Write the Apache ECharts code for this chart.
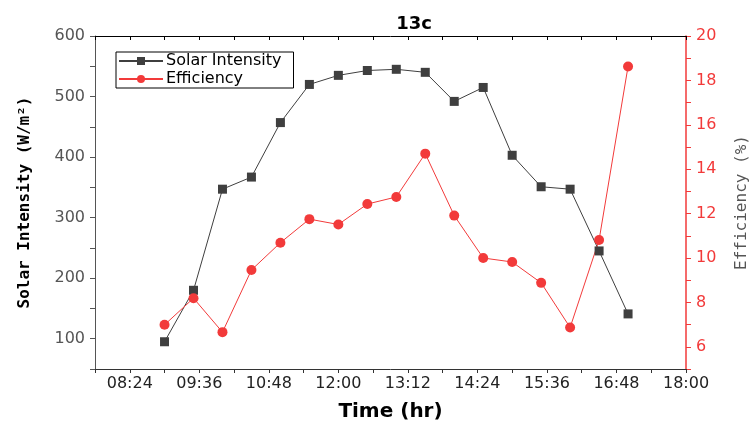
<!DOCTYPE html>
<html>
<head>
<meta charset="utf-8">
<script src="https://cdn.jsdelivr.net/npm/echarts@6/dist/echarts.min.js"></script>
<style>
  html, body { margin: 0; padding: 0; background: #fff; }
  #chart { width: 753px; height: 423px; }
</style>
</head>
<body>
<div id="chart"></div>
<script>
// time of each reading
const times = ['09:00', '09:30', '10:00', '10:30', '11:00', '11:30', '12:00', '12:30', '13:00',
  '13:30', '14:00', '14:30', '15:00', '15:30', '16:00', '16:30', '17:00'];
// W/m2
const solarIntensity = [95, 180, 347, 367, 457, 520, 535, 543, 545, 540, 492, 515, 403, 351, 347, 245, 141];
// %
const efficiency = [6.99, 8.19, 6.66, 9.46, 10.69, 11.75, 11.51, 12.43, 12.75, 14.7, 11.91, 10.0, 9.82, 8.88, 6.87, 10.81, 18.63];

const toMin = t => { const p = t.split(':'); return +p[0] * 60 + +p[1]; };
const fmtTime = v => String(Math.floor(v / 60)).padStart(2, '0') + ':' + String(v % 60).padStart(2, '0');

const red = '#f23a3a';
const dark = '#3f3f3f';
const sans = 'DejaVu Sans';
const mono = 'DejaVu Sans Mono';

const chart = echarts.init(document.getElementById('chart'));
const option = {
  animation: false,
  title: {
    text: '13c',
    left: 409,
    top: 10,
    textAlign: 'center',
    textStyle: { fontFamily: sans, fontWeight: 'bold', fontSize: 18, color: '#000' }
  },
  legend: {
    orient: 'vertical',
    left: 116,
    top: 52,
    itemWidth: 44,
    itemHeight: 10,
    itemGap: 2,
    padding: [1, 12, 1, 2],
    borderColor: '#000',
    borderWidth: 1,
    textStyle: { fontFamily: sans, fontSize: 16, color: '#000', padding: [0, 0, 0, -2] },
    data: ['Solar Intensity', 'Efficiency']
  },
  grid: { left: 95, right: 67, top: 36, bottom: 54, outerBoundsMode: 'none' },
  xAxis: [
    {
      type: 'value',
      min: 468,
      max: 1080,
      interval: 36,
      name: 'Time (hr)',
      nameLocation: 'middle',
      nameGap: 33,
      nameTextStyle: { fontFamily: sans, fontWeight: 'bold', fontSize: 20, color: '#000' },
      axisLine: { lineStyle: { color: '#333', width: 1 } },
      axisTick: { length: 4, lineStyle: { color: '#333' } },
      splitLine: { show: false },
      axisLabel: {
        fontFamily: sans,
        fontSize: 16,
        color: '#222',
        margin: 7,
        showMinLabel: true,
        showMaxLabel: true,
        formatter: v => ((v - 504) % 72 === 0 ? fmtTime(v) : '')
      }
    },
    {
      type: 'value',
      position: 'top',
      min: 468,
      max: 1080,
      interval: 36,
      axisLine: { lineStyle: { color: '#000', width: 1 } },
      axisTick: { inside: true, length: 4, lineStyle: { color: '#000' } },
      axisLabel: { show: false },
      splitLine: { show: false }
    }
  ],
  yAxis: [
    {
      type: 'value',
      min: 50,
      max: 600,
      interval: 50,
      name: 'Solar Intensity (W/m²)',
      nameLocation: 'middle',
      nameGap: 62,
      nameTextStyle: { fontFamily: mono, fontWeight: 'bold', fontSize: 16, color: '#000' },
      axisLine: { show: true, lineStyle: { color: '#555', width: 1 } },
      axisTick: { length: 5, lineStyle: { color: '#555' } },
      splitLine: { show: false },
      axisLabel: {
        fontFamily: sans,
        fontSize: 16,
        color: '#555',
        margin: 10,
        formatter: v => (v % 100 === 0 ? v : '')
      }
    },
    {
      type: 'value',
      min: 5,
      max: 20,
      interval: 1,
      position: 'right',
      name: 'Efficiency (%)',
      nameLocation: 'middle',
      nameGap: 48,
      nameRotate: 90,
      nameTextStyle: { fontFamily: mono, fontSize: 16, color: '#555' },
      axisLine: { show: true, lineStyle: { color: red, width: 1.5 } },
      axisTick: { length: 5, lineStyle: { color: red } },
      splitLine: { show: false },
      axisLabel: {
        fontFamily: sans,
        fontSize: 16,
        color: red,
        margin: 10,
        formatter: v => (v % 2 === 0 ? v : '')
      }
    }
  ],
  series: [
    {
      name: 'Solar Intensity',
      type: 'line',
      xAxisIndex: 0,
      yAxisIndex: 0,
      symbol: 'rect',
      symbolSize: 9,
      itemStyle: { color: dark },
      lineStyle: { color: dark, width: 1 },
      data: times.map((t, i) => [toMin(t), solarIntensity[i]])
    },
    {
      name: 'Efficiency',
      type: 'line',
      xAxisIndex: 0,
      yAxisIndex: 1,
      symbol: 'circle',
      symbolSize: 10,
      itemStyle: { color: red },
      lineStyle: { color: red, width: 1 },
      data: times.map((t, i) => [toMin(t), efficiency[i]])
    }
  ]
};
chart.setOption(option);
window.addEventListener('resize', () => {
  chart.resize();
});
</script>
</body>
</html>
